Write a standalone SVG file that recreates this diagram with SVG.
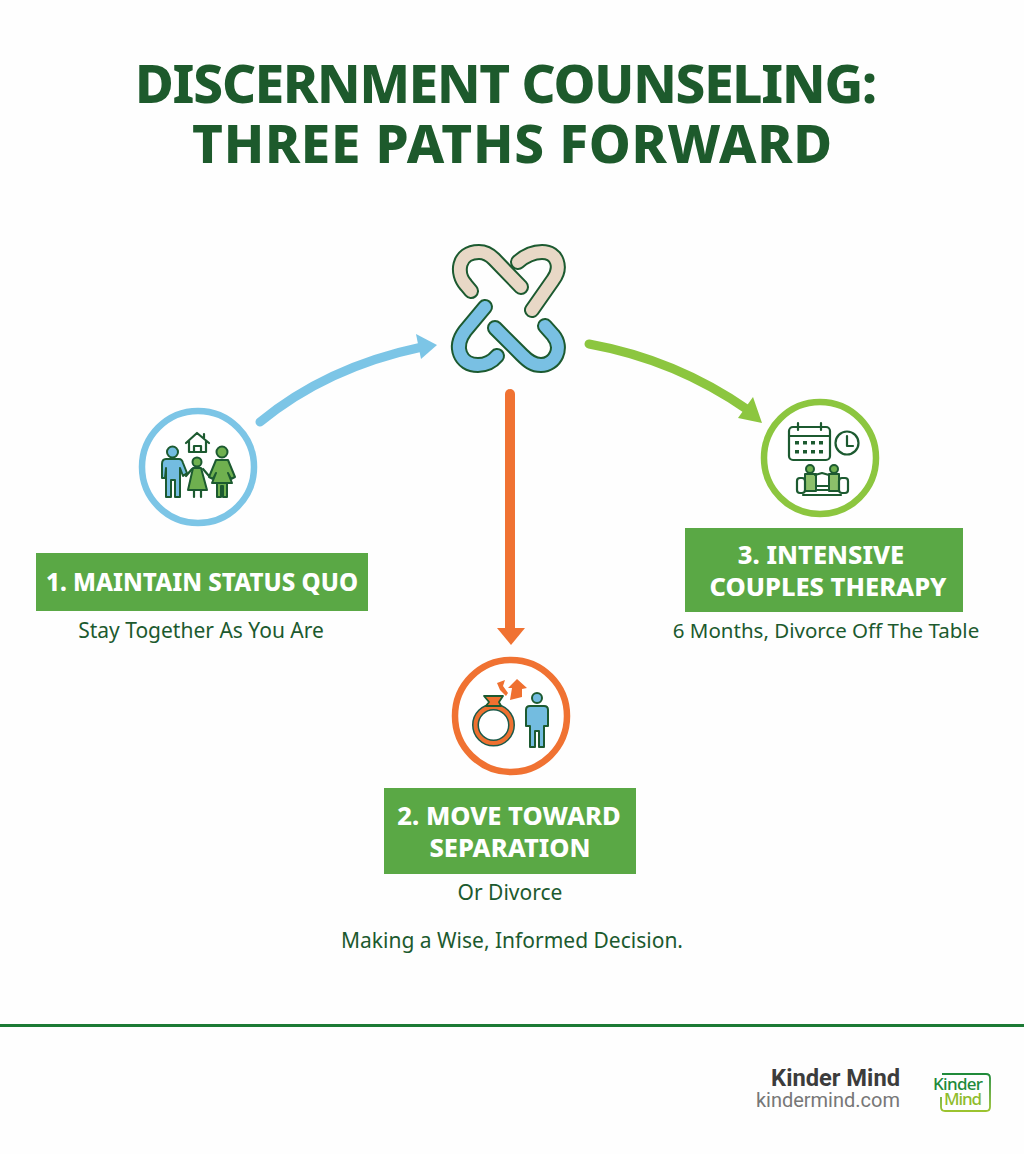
<svg xmlns="http://www.w3.org/2000/svg" width="1024" height="1154" viewBox="0 0 1024 1154">
<defs>
<style>
text{font-family:"Noto Sans","Open Sans",sans-serif;text-anchor:middle}
.title{font-size:53px;font-weight:800;fill:#1d5a2c}
.head{font-size:25.5px;font-weight:800;fill:#fff}
.sub{font-size:21px;fill:#1c5a2e}
.box{fill:#5aa845}
.ring{fill:#fff;stroke-width:6.5}
.o{fill:none;stroke:#1c5a30;stroke-width:16;stroke-linecap:round;stroke-linejoin:round}
.tan{fill:none;stroke:#e8d8c6;stroke-width:12;stroke-linecap:round;stroke-linejoin:round}
.blu{fill:none;stroke:#79c0e3;stroke-width:12;stroke-linecap:round;stroke-linejoin:round}
.ic{stroke:#1c5a30;stroke-width:2;stroke-linejoin:round}
.ln{fill:none;stroke:#1c5a30;stroke-width:2.2;stroke-linejoin:round;stroke-linecap:round}
</style>
<linearGradient id="lg" x1="0" y1="0" x2="0" y2="1"><stop offset="0" stop-color="#1f8a3a"/><stop offset="1" stop-color="#9cc32f"/></linearGradient>
</defs>
<rect width="1024" height="1154" fill="#fefefe"/>
<g id="title">
<text class="title"><tspan x="506" y="103" textLength="742" lengthAdjust="spacing">DISCERNMENT COUNSELING:</tspan><tspan x="512" y="163" textLength="640" lengthAdjust="spacing">THREE PATHS FORWARD</tspan></text>
</g>
<g id="connectors" fill="none" stroke-linecap="round">
<path d="M260 422C305 385 360 360 422 347" stroke="#7cc5e6" stroke-width="9"/>
<polygon points="437,345 416,334 421,359" fill="#7cc5e6"/>
<path d="M589 344C650 355 705 380 748 410" stroke="#8cc63f" stroke-width="9"/>
<polygon points="762,423 738,418 753,397" fill="#8cc63f"/>
<path d="M510 394V630" stroke="#f07232" stroke-width="10"/>
<polygon points="497,628 525,628 511,645" fill="#f07232"/>
</g>
<g id="center">
<path class="o" d="M471 291L466 285C456 274 457 252 479 252C486 252 490 255 494 259L521 287"/>
<path class="o" d="M518 262C526 255 533 252 542 252C558 252 562 268 553 280L532 310"/>
<path class="o" d="M485 307L465 331C453 347 460 365 478 365C486 365 492 362 497 356"/>
<path class="o" d="M495 328L522 355C528 361 533 365 541 365C555 365 564 348 553 335L545 326"/>
<path class="tan" d="M471 291L466 285C456 274 457 252 479 252C486 252 490 255 494 259L521 287"/>
<path class="tan" d="M518 262C526 255 533 252 542 252C558 252 562 268 553 280L532 310"/>
<path class="blu" d="M485 307L465 331C453 347 460 365 478 365C486 365 492 362 497 356"/>
<path class="blu" d="M495 328L522 355C528 361 533 365 541 365C555 365 564 348 553 335L545 326"/>
</g>
<g id="node-1">
<circle class="ring" cx="198" cy="467" r="56" stroke="#7cc5e6"/>
<path class="ln" d="M186 443L197 433L209 443M189 441V452H206V441M194 452V446H201V452M204 434V438"/>
<circle class="ic" cx="172.500" cy="452" r="5.500" fill="#73bce0"/>
<path class="ic" d="M166 459H179Q182 459 183 463L187 473L183 476L180 468V497H175V480H171V497H166V468L165 478H162V464Q162 459 166 459Z" fill="#73bce0"/>
<circle class="ic" cx="197" cy="462" r="4.500" fill="#6fb04f"/>
<path class="ic" d="M193 468H201L207 490H188Z" fill="#6fb04f"/>
<path class="ln" d="M194 490V497M201 490V497M186 476L192 469M209 476L203 469"/>
<circle class="ic" cx="222" cy="452" r="5.500" fill="#6fb04f"/>
<path class="ic" d="M216 460H228L235 477L231 479L228 473L232 483H212L216 473L213 479L209 477Z" fill="#6fb04f"/>
<path class="ic" d="M217 483H227V497H223V486H221V497H217Z" fill="#6fb04f"/>
</g>
<g id="node-3">
<circle class="ring" cx="820" cy="458" r="56" stroke="#8cc63f"/>
<rect class="ln" x="789" y="427" width="41" height="33" rx="4"/>
<path class="ln" d="M789 436H830M798 423V430M821 423V430"/>
<g fill="#1c5a30"><rect x="795" y="441" width="4" height="3.500"/><rect x="803" y="441" width="4" height="3.500"/><rect x="811" y="441" width="4" height="3.500"/><rect x="819" y="441" width="4" height="3.500"/><rect x="795" y="450" width="4" height="3.500"/><rect x="803" y="450" width="4" height="3.500"/><rect x="811" y="450" width="4" height="3.500"/><rect x="819" y="450" width="4" height="3.500"/></g>
<circle class="ln" cx="847" cy="443" r="11.500"/>
<path class="ln" d="M847 436V446H853"/>
<circle class="ic" cx="810" cy="469" r="4" fill="#6fb04f"/>
<circle class="ic" cx="834" cy="469" r="4" fill="#6fb04f"/>
<path class="ic" d="M805 474H816V491H805Z" fill="#8cc06a"/>
<path class="ic" d="M829 474H839V491H829Z" fill="#8cc06a"/>
<path class="ln" d="M815 475L822 473L829 475M816 486H829M803 495H841M816 490H829"/>
<rect class="ln" x="797" y="478" width="8" height="15" rx="3"/>
<rect class="ln" x="839" y="478" width="9" height="15" rx="3"/>
</g>
<g id="node-2">
<circle class="ring" cx="511" cy="716" r="56" stroke="#f07232"/>
<circle cx="493.500" cy="725" r="18" fill="none" stroke="#1c5a4a" stroke-width="7"/>
<circle cx="493.500" cy="725" r="18" fill="none" stroke="#ef7030" stroke-width="4"/>
<path d="M484 696H503L499 702L501 706H486L489 702Z" fill="#ef7030" stroke="#1c5a30" stroke-width="1.800" stroke-linejoin="round"/>
<path d="M497 683L505 680L503 686L508 693L506 696L500 690Z" fill="#ef7030"/>
<path d="M517 679L527 688L522 689V697L510 700L512 688L508 688Z" fill="#ef7030"/>
<circle class="ic" cx="537" cy="698" r="5" fill="#73bce0"/>
<path class="ic" d="M530 706H544Q548 706 548 710V726H544V747H539V731H535V747H530V726H526V710Q526 706 530 706Z" fill="#73bce0"/>
</g>
<g id="label-1">
<rect class="box" x="36" y="553" width="332" height="58"/>
<text class="head" x="202" y="591" textLength="312" lengthAdjust="spacingAndGlyphs">1. MAINTAIN STATUS QUO</text>
<text class="sub" x="201" y="638">Stay Together As You Are</text>
</g>
<g id="label-3">
<rect class="box" x="685" y="528" width="278" height="84"/>
<text class="head"><tspan x="821" y="564">3. INTENSIVE</tspan><tspan x="828" y="596">COUPLES THERAPY</tspan></text>
<text class="sub" x="826" y="638" style="font-size:20.500px">6 Months, Divorce Off The Table</text>
</g>
<g id="label-2">
<rect class="box" x="384" y="788" width="252" height="86"/>
<text class="head"><tspan x="509" y="825">2. MOVE TOWARD</tspan><tspan x="510" y="857">SEPARATION</tspan></text>
<text class="sub" x="510" y="900">Or Divorce</text>
</g>
<text class="sub" x="512" y="948">Making a Wise, Informed Decision.</text>
<rect id="footer-rule" x="0" y="1024" width="1024" height="3" fill="#1c7a35"/>
<g id="footer">
<text style="font-family:Roboto,sans-serif;text-anchor:end"><tspan x="900" y="1086" style="font-size:23.700px;font-weight:700;fill:#3c3c3c">Kinder Mind</tspan><tspan x="900" y="1107" style="font-size:20px;fill:#777">kindermind.com</tspan></text>
<path d="M942 1074H986Q990 1074 990 1078V1107Q990 1111 986 1111H945Q941 1111 941 1107V1097" fill="none" stroke="url(#lg)" stroke-width="1.800"/>
<text x="958" y="1090" textLength="50" style="font-family:'Noto Sans',sans-serif;font-size:17px;font-weight:500;fill:#1f8a3a">Kinder</text>
<text x="963" y="1105" textLength="38" style="font-family:'Noto Sans',sans-serif;font-size:17px;font-weight:500;fill:#8fbc2c">Mind</text>
</g>
</svg>
